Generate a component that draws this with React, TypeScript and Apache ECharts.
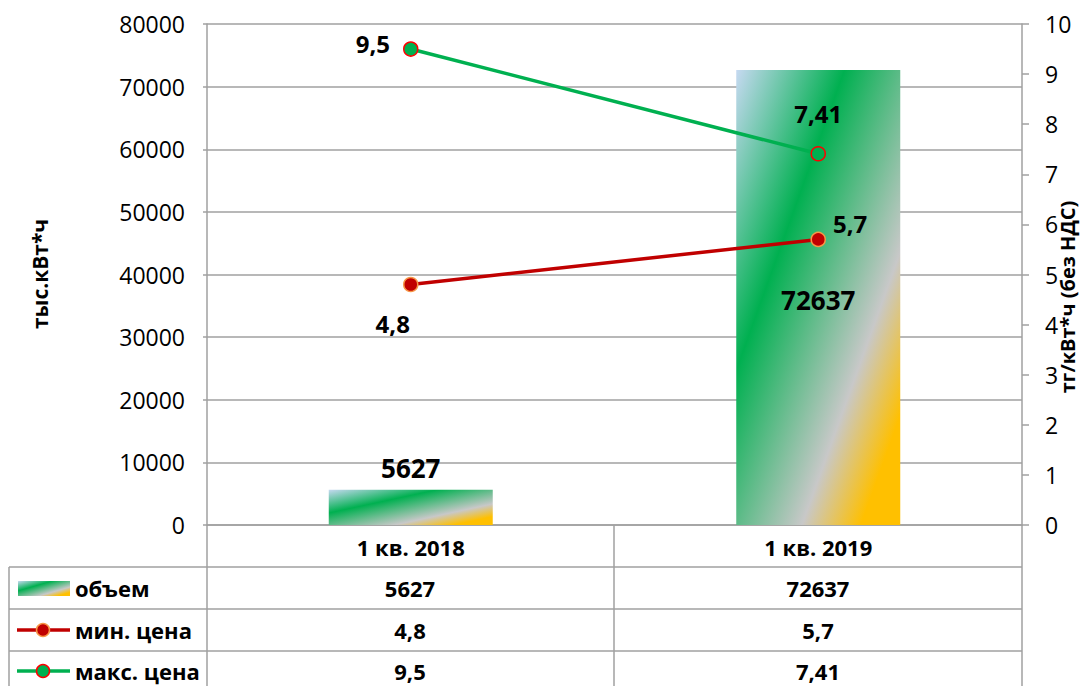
import React, { useEffect, useRef } from "react";
import * as echarts from "echarts";

const categories = ["1 кв. 2018", "1 кв. 2019"];
const volume = [5627, 72637];
const minPrice = [4.8, 5.7];
const maxPrice = [9.5, 7.41];
const seriesNames = ["объем", "мин. цена", "макс. цена"];
const leftAxisName = "тыс.кВт*ч";
const rightAxisName = "тг/кВт*ч (без НДС)";

const FONT = "'Open Sans', 'DejaVu Sans', sans-serif";
const fmt = (v: number) => String(v).replace(".", ",");

const barGradient = () =>
  new echarts.graphic.LinearGradient(0, 0, 1, 1, [
    { offset: 0, color: "#c6d9f1" },
    { offset: 0.33, color: "#00b050" },
    { offset: 0.7, color: "#c8c8c8" },
    { offset: 0.88, color: "#ffc000" },
    { offset: 1, color: "#ffc000" },
  ]);

export default function App() {
  const ref = useRef<HTMLDivElement>(null);

  useEffect(() => {
    if (!ref.current) return;
    const chart = echarts.init(ref.current, undefined, { renderer: "svg" });

    const gridLeft = 207;
    const gridRight = 1022;
    const gridBottomY = 525;
    const rowLines = [567, 609, 651];
    const rowCenters = [588, 630, 671];
    const colCenters = [410, 818];
    const gray = "#a0a0a0";

    const labelBase = {
      show: true,
      color: "#000",
      fontFamily: FONT,
      fontWeight: "bold" as const,
      fontSize: 24,
      formatter: (p: any) => fmt(p.value),
    };

    const graphics: any[] = [];
    rowLines.forEach((y) =>
      graphics.push({
        type: "line",
        shape: { x1: 9, y1: y, x2: gridRight, y2: y },
        style: { stroke: gray, lineWidth: 1.5 },
      })
    );
    [
      [9, 567],
      [gridLeft, gridBottomY],
      [614, gridBottomY],
      [gridRight, gridBottomY],
    ].forEach(([x, y0]) =>
      graphics.push({
        type: "line",
        shape: { x1: x, y1: y0, x2: x, y2: 690 },
        style: { stroke: gray, lineWidth: 1.5 },
      })
    );
    const rows = [volume, minPrice, maxPrice];
    rows.forEach((arr, r) =>
      arr.forEach((v, c) =>
        graphics.push({
          type: "text",
          x: colCenters[c],
          y: rowCenters[r],
          style: {
            text: fmt(v),
            align: "center",
            verticalAlign: "middle",
            fill: "#000",
            font: `bold 22px ${FONT}`,
          },
        })
      )
    );
    graphics.push({
      type: "rect",
      shape: { x: 18, y: 581, width: 52, height: 15 },
      style: { fill: barGradient() },
    });
    const lineKeys = [
      { y: rowCenters[1], stroke: "#c00000", fill: "#c00000", border: "#f79646" },
      { y: rowCenters[2], stroke: "#00b050", fill: "#00b050", border: "#ff0000" },
    ];
    lineKeys.forEach((k) => {
      graphics.push({
        type: "line",
        shape: { x1: 17, y1: k.y, x2: 70, y2: k.y },
        style: { stroke: k.stroke, lineWidth: 3.5 },
      });
      graphics.push({
        type: "circle",
        shape: { cx: 43, cy: k.y, r: 6.5 },
        style: { fill: k.fill, stroke: k.border, lineWidth: 1.5 },
      });
    });
    seriesNames.forEach((n, i) =>
      graphics.push({
        type: "text",
        x: 75,
        y: rowCenters[i],
        style: {
          text: n,
          align: "left",
          verticalAlign: "middle",
          fill: "#000",
          font: `bold 22px ${FONT}`,
        },
      })
    );
    graphics.push({
      type: "text",
      x: 40,
      y: 274,
      rotation: Math.PI / 2,
      style: {
        text: leftAxisName,
        align: "center",
        verticalAlign: "middle",
        fill: "#000",
        font: `bold 21px ${FONT}`,
      },
    });
    graphics.push({
      type: "text",
      x: 1067,
      y: 297,
      rotation: Math.PI / 2,
      style: {
        text: rightAxisName,
        align: "center",
        verticalAlign: "middle",
        fill: "#000",
        font: `bold 20px ${FONT}`,
      },
    });

    const barLabels = [
      { position: "top", distance: 9, fontSize: 26 },
      { position: "inside", offset: [0, 2], fontSize: 26 },
    ];
    const minLabels = [
      { position: "bottom", distance: 19, offset: [-18, 0] },
      { position: "right", distance: 7, offset: [0, -16] },
    ];
    const maxLabels = [
      { position: "left", distance: 13, offset: [0, -6] },
      { position: "top", distance: 21 },
    ];

    chart.setOption({
      animation: false,
      textStyle: { fontFamily: FONT },
      grid: { left: gridLeft, right: 1082 - gridRight, top: 24, bottom: 686 - gridBottomY },
      xAxis: {
        type: "category",
        data: categories,
        axisLine: { show: true, lineStyle: { color: gray, width: 1.5 } },
        axisTick: { show: false },
        axisLabel: {
          color: "#000",
          fontFamily: FONT,
          fontWeight: "bold",
          fontSize: 22,
          margin: 11,
        },
      },
      yAxis: [
        {
          type: "value",
          min: 0,
          max: 80000,
          interval: 10000,
          axisLine: { show: true, lineStyle: { color: gray, width: 1.5 } },
          axisTick: { show: true, length: 4, lineStyle: { color: gray, width: 1.5 } },
          splitLine: { show: true, lineStyle: { color: gray, width: 1.5 } },
          axisLabel: {
            color: "#000",
            fontFamily: FONT,
            fontSize: 23,
            margin: 22,
            formatter: (v: number) => String(v),
          },
        },
        {
          type: "value",
          min: 0,
          max: 10,
          interval: 1,
          axisLine: { show: true, lineStyle: { color: gray, width: 1.5 } },
          axisTick: { show: true, length: 7, lineStyle: { color: gray, width: 1.5 } },
          splitLine: { show: false },
          axisLabel: {
            color: "#000",
            fontFamily: FONT,
            fontSize: 23,
            margin: 23,
            formatter: (v: number) => String(v),
          },
        },
      ],
      series: [
        {
          name: seriesNames[0],
          type: "bar",
          yAxisIndex: 0,
          barWidth: 164,
          itemStyle: { color: barGradient() },
          data: volume.map((v, i) => ({
            value: v,
            label: { ...labelBase, ...barLabels[i] },
          })),
          z: 1,
        },
        {
          name: seriesNames[1],
          type: "line",
          yAxisIndex: 1,
          symbol: "circle",
          symbolSize: 14,
          lineStyle: { color: "#c00000", width: 3.5 },
          itemStyle: { color: "#c00000", borderColor: "#f79646", borderWidth: 1.5 },
          data: minPrice.map((v, i) => ({
            value: v,
            label: { ...labelBase, ...minLabels[i] },
          })),
          z: 3,
        },
        {
          name: seriesNames[2],
          type: "line",
          yAxisIndex: 1,
          symbol: "circle",
          symbolSize: 14,
          lineStyle: { color: "#00b050", width: 3.5 },
          itemStyle: { color: "#00b050", borderColor: "#ff0000", borderWidth: 1.5 },
          data: maxPrice.map((v, i) => ({
            value: v,
            label: { ...labelBase, ...maxLabels[i] },
          })),
          z: 3,
        },
      ],
      graphic: graphics,
    });

    return () => chart.dispose();
  }, []);

  return (
    <div
      ref={ref}
      style={{ position: "fixed", left: 0, top: 0, width: 1082, height: 686, background: "#fff" }}
    />
  );
}
